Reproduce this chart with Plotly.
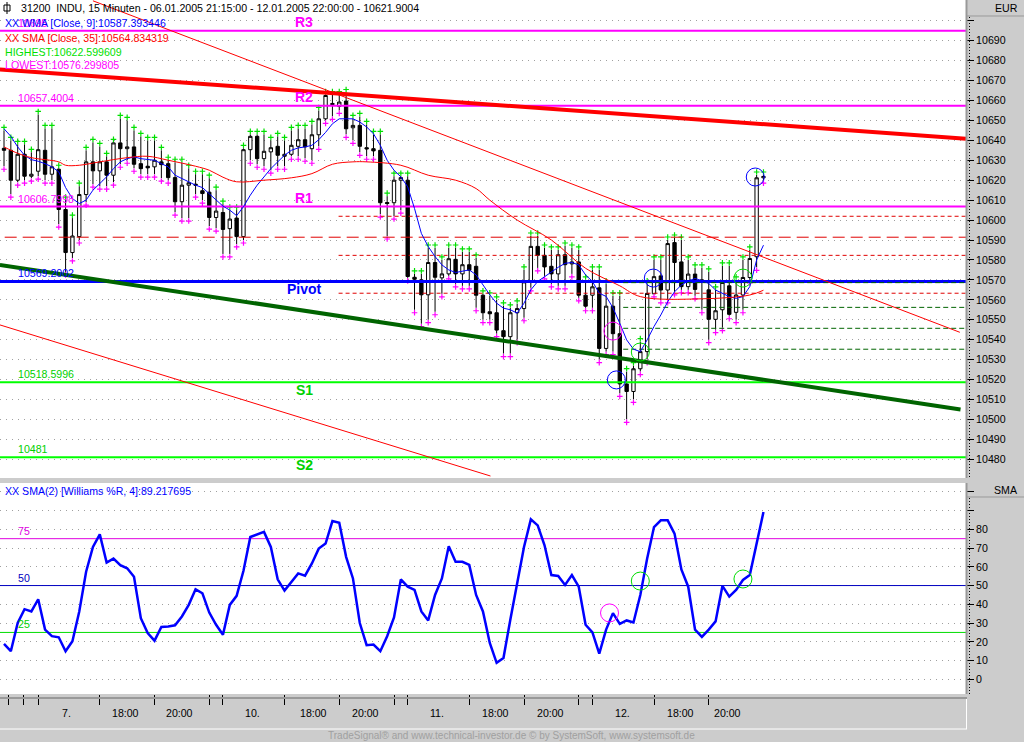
import plotly.graph_objects as go

# 15 minute bars, index 0 = 06.01.2005 21:15, last index = 12.01.2005 22:00
opens = [10636, 10635, 10620, 10633, 10622, 10624.5, 10635, 10623, 10625.5, 10605.3,
         10583.7, 10591.7, 10612.8, 10629.2, 10624.7, 10629.2, 10622.5, 10638.7, 10635.8, 10636.7,
         10628.3, 10627, 10626.7, 10629.2, 10628.3, 10621.3, 10609.2, 10617.5, 10618, 10614.7,
         10614, 10601.3, 10603.8, 10595.7, 10601, 10591.7, 10635.3, 10642, 10630.8, 10634.2,
         10637, 10632, 10633, 10637, 10640.3, 10635.8, 10642.8, 10650.8, 10658.5, 10657,
         10659.7, 10646.3, 10647.5, 10636.3, 10635.8, 10635, 10608.8, 10608.7, 10620, 10620,
         10571.3, 10570, 10562.5, 10578.7, 10571, 10573, 10580.3, 10573, 10577.6, 10576.8,
         10562.3, 10554, 10553.5, 10544.5, 10541.5, 10553.5, 10555.6, 10569, 10586.8, 10582.3,
         10576.8, 10573, 10582.6, 10578, 10579, 10562.3, 10562.3, 10566, 10535.6, 10556.8,
         10543, 10517.8, 10514, 10525.4, 10534, 10563, 10572, 10564.9, 10588.7, 10579,
         10566.6, 10572.9, 10570, 10565, 10550.2, 10555, 10567, 10553.7, 10562.4, 10571.2,
         10581.6, 10621.2]
highs = [10645, 10640, 10638, 10638, 10634, 10653, 10646, 10646, 10626, 10610,
         10601, 10617, 10635, 10639, 10637, 10632, 10639, 10651, 10650, 10645,
         10642, 10640, 10640, 10635, 10630, 10629, 10629, 10626, 10623, 10623,
         10621, 10615, 10608, 10605, 10605, 10636, 10643, 10643, 10643, 10640,
         10642, 10640, 10645, 10646, 10646, 10648, 10655, 10663, 10663, 10663,
         10664, 10651, 10652, 10648, 10643, 10643, 10612, 10622, 10622, 10622,
         10573, 10573, 10586, 10586, 10580, 10586, 10586, 10584, 10584, 10581,
         10563, 10562, 10560, 10557, 10556, 10558, 10575, 10592, 10592, 10586,
         10585, 10585, 10587, 10586, 10585, 10570, 10575, 10575, 10568, 10562,
         10562, 10524, 10527, 10539, 10568, 10580, 10580, 10590, 10591, 10590,
         10580, 10576, 10576, 10574, 10565, 10577, 10577, 10570, 10580, 10585,
         10622.6, 10622.6]
lows = [10627, 10613, 10619, 10620, 10621, 10622, 10620, 10620, 10598, 10574,
        10581, 10590, 10609, 10618, 10617, 10617, 10619, 10628, 10630, 10626,
        10623, 10623, 10623, 10621, 10620, 10604, 10601, 10601, 10613, 10610,
        10597, 10596, 10583, 10583, 10588, 10590, 10630, 10628, 10627, 10625,
        10627, 10627, 10632, 10632, 10631, 10630, 10637, 10650, 10652, 10655,
        10643, 10640, 10634, 10632, 10632, 10603, 10592, 10602, 10605, 10571,
        10555, 10548, 10550, 10554, 10563, 10572, 10568, 10567, 10567, 10556,
        10550, 10550, 10543, 10533, 10533, 10540, 10551, 10566, 10576, 10572,
        10568, 10567, 10567, 10573, 10561, 10556, 10556, 10530, 10534, 10534,
        10513, 10500, 10510, 10524, 10530, 10563, 10560, 10560, 10564, 10565,
        10565, 10562, 10555, 10540, 10545, 10546, 10552, 10550, 10555, 10570,
        10576.3, 10620]
closes = [10635, 10620, 10633, 10622, 10623, 10635.3, 10623, 10626.7, 10605.3, 10583.7,
          10592, 10612.8, 10629.2, 10624.7, 10629.2, 10622.5, 10638.7, 10635.8, 10636.7, 10628,
          10625.8, 10626.2, 10630, 10627.8, 10621.3, 10609.2, 10617.5, 10618.7, 10617.5, 10613.3,
          10601.3, 10604.5, 10595.3, 10600.5, 10591.7, 10635.3, 10642, 10630.8, 10634.5, 10636.3,
          10632.5, 10633, 10637.5, 10640.3, 10636.7, 10642.8, 10650.8, 10662.5, 10658, 10659.2,
          10645.8, 10647.5, 10637, 10635.7, 10634.7, 10608.7, 10608.3, 10620, 10621.3, 10571.7,
          10570.3, 10562.5, 10578.7, 10571.3, 10573, 10580.6, 10573, 10577.6, 10574.8, 10562.3,
          10553.5, 10553, 10544.8, 10541.5, 10553.5, 10555.6, 10569, 10586.8, 10582.3, 10576.5,
          10573, 10582.6, 10577.6, 10579, 10562.3, 10556.8, 10566.5, 10535.6, 10556.8, 10543,
          10517.8, 10514, 10525.4, 10534, 10563.2, 10571.6, 10564.9, 10588.2, 10578.7, 10566.6,
          10572.9, 10565.2, 10569, 10550.2, 10554.5, 10568.7, 10552.7, 10562.4, 10571.2, 10580.7,
          10621.2, 10621.9]

wma9 = [10645.8, 10642, 10636.7, 10632.5, 10630.3, 10629.5, 10628.3, 10626.7, 10624.2, 10616.3,
        10610.8, 10608.3, 10610, 10615, 10618.3, 10621.7, 10625.8, 10629.2, 10630.8, 10631.7,
        10630.8, 10630.3, 10630, 10628.3, 10626.7, 10622.5, 10620.8, 10619.2, 10617.5, 10616.3,
        10613.3, 10610, 10607, 10605, 10602.2, 10606.7, 10612.5, 10617.5, 10621.7, 10625.8,
        10629.2, 10632.5, 10635, 10636.2, 10636.7, 10637.5, 10640.3, 10644, 10648.3, 10650.8,
        10650.8, 10650.8, 10649.2, 10646.7, 10643.3, 10637.5, 10630, 10625, 10621.7, 10616.7,
        10605.8, 10593.3, 10586.7, 10581.7, 10577.5, 10575, 10573.7, 10574.2, 10575, 10572.5,
        10567.5, 10562.5, 10558.3, 10555.8, 10555, 10553.3, 10558.3, 10565, 10569.2, 10571.7,
        10574.2, 10576.3, 10578.3, 10578.7, 10577.5, 10572.5, 10569.2, 10563.3, 10561.7, 10556,
        10548.2, 10539.9, 10535.2, 10534, 10539.9, 10546.6, 10552.4, 10559, 10564, 10567.4,
        10569.4, 10570.7, 10569.6, 10568.2, 10564.9, 10563.2, 10561.6, 10560.7, 10561.6, 10566.6,
        10580, 10587.4]

sma35_bar = [0, 2, 4, 8, 9, 11, 14, 18, 21, 24, 28, 30, 32, 34, 38, 42, 45, 48, 51, 53,
             58, 62, 66, 69, 71, 75, 80, 85, 90, 93, 102, 109, 111]
sma35_val = [10636.7, 10633.5, 10631.3, 10629.2, 10627.5, 10627.5, 10629.2, 10631.3, 10632, 10630,
             10627, 10625, 10621.5, 10619.2, 10620, 10621.2, 10623.3, 10628, 10629.2, 10629.2,
             10627.5, 10622.5, 10620, 10615.8, 10610, 10600, 10590, 10575.8, 10567, 10561.6,
             10560.5, 10562.4, 10564.8]

wpr_sma2 = [18.9, 15, 30, 37.4, 36.2, 42.7, 26.5, 23, 22.4, 15,
            20.3, 36.2, 57.4, 70.6, 77.3, 62.3, 64.4, 60.9, 59.2, 54.7,
            32.6, 24.7, 20.6, 27.9, 28.2, 28.8, 33.5, 39.7, 48, 45.9,
            35.6, 29.1, 23.8, 39.7, 44.5, 57.9, 75.9, 77.3, 78.6, 70.6,
            53.3, 47.3, 52.1, 56.5, 55.3, 61.8, 69.7, 72.4, 84.4, 83.5,
            65.3, 53.8, 30, 18.2, 18.5, 15, 23, 33, 53.3, 49.4,
            47.7, 36.2, 31.4, 45, 53.8, 71, 62.7, 62.7, 61, 45,
            36.2, 19.4, 8.8, 11.4, 31.8, 50.3, 70.6, 85.3, 82.1, 71.5,
            55.6, 55.1, 50.3, 55.6, 49.4, 29.1, 25, 13.7, 26.5, 35.3,
            29.6, 31.4, 30.3, 45, 64.4, 81.2, 84.8, 84.8, 77.7, 58.6,
            49.4, 26.5, 22.6, 26.5, 30.9, 49.8, 44.1, 47.7, 53, 55.6,
            73.3, 89.2]

# floor pivots of the previous day
level_vals = [10695, 10657.4004, 10606.7998, 10569.2002, 10518.5996, 10481]
level_text = ["10695", "10657.4004", "10606.7998", "10569.2002", "10518.5996", "10481"]
level_names = ["R3", "R2", "R1", "Pivot", "S1", "S2"]

# hand drawn trend lines (bar, price)
res_k, res_p = [-0.6, 140.6], [10675.6, 10640.8]
sup_k, sup_p = [-0.6, 139.8], [10577.5, 10505.0]
chan_hi_k, chan_hi_p = [13.0, 139.7], [10710.0, 10543.7]
chan_lo_k, chan_lo_p = [-0.6, 71.1], [10547.4, 10471.6]

red_dash_levels = [10601.9, 10582.3, 10563.3]
red_dash_start = 48.9
red_long_level = 10591.4
green_dash_levels = [10568.6, 10556.2, 10545.7, 10535.2]
green_dash_start = 90.5

# signal circles
top_blue_k, top_blue_p = [89.5, 94.9, 109.8], [10519.8, 10570.9, 10621.6]
top_green_k, top_green_p = [93.0, 108.0], [10533.8, 10570.9]
top_mag_k, top_mag_p = [89.0], [10544.3]
low_mag_k, low_mag_v = [88.5], [35.4]
low_green_k, low_green_v = [93.0, 108.0], [52.4, 53.5]

tick_k = [0.6, 2.9, 5, 14, 22, 30, 32, 41, 49, 57, 59, 68, 76, 84, 86, 95, 103]
label_k = [9.2, 17.7, 25.7, 36.3, 45.3, 52.9, 63.3, 71.8, 79.8, 90.4, 98.8, 105.8]
label_txt = ["7.", "18:00", "20:00", "10.", "18:00", "20:00",
             "11.", "18:00", "20:00", "12.", "18:00", "20:00"]

FONT = "Liberation Sans, Arial, sans-serif"
X_MIN, X_MAX = -0.585, 140.6
W, H, PLOT_W, PLOT_H = 1024, 742, 966, 694
MAG, BLUE, LIME, GREEN_TXT = "#ff00ff", "#0000ff", "#00ff00", "#00d000"


def px(x):
    return x / PLOT_W


def py(y):
    return (PLOT_H - y) / PLOT_H


bars = list(range(len(closes)))
fig = go.Figure()

fig.add_trace(go.Candlestick(
    x=bars, open=opens, high=highs, low=lows, close=closes,
    increasing=dict(line=dict(color="black", width=1), fillcolor="white"),
    decreasing=dict(line=dict(color="black", width=1), fillcolor="black"),
    whiskerwidth=0, hoverinfo="skip", showlegend=False))

fig.add_trace(go.Scatter(x=bars, y=[h + 1.5 for h in highs], mode="markers",
                         marker=dict(symbol="cross-thin", size=4, line=dict(color="#00e000", width=1.2)),
                         hoverinfo="skip"))
fig.add_trace(go.Scatter(x=bars, y=[l - 1.5 for l in lows], mode="markers",
                         marker=dict(symbol="cross-thin", size=4, line=dict(color=MAG, width=1.2)),
                         hoverinfo="skip"))

# pivot levels
level_cols = [MAG, MAG, MAG, BLUE, LIME, LIME]
level_w = [2, 2, 2, 3, 2, 2]
for v, c, w in zip(level_vals, level_cols, level_w):
    fig.add_trace(go.Scatter(x=[X_MIN, X_MAX], y=[v, v], mode="lines",
                             line=dict(color=c, width=w), hoverinfo="skip"))

fig.add_trace(go.Scatter(x=[0.1, X_MAX], y=[red_long_level] * 2, mode="lines",
                         line=dict(color="#e00000", width=1, dash="12px,6px"), hoverinfo="skip"))
for v in red_dash_levels:
    fig.add_trace(go.Scatter(x=[red_dash_start, X_MAX], y=[v, v], mode="lines",
                             line=dict(color="#e00000", width=1, dash="4px,3px"), hoverinfo="skip"))
for v in green_dash_levels:
    fig.add_trace(go.Scatter(x=[green_dash_start, X_MAX], y=[v, v], mode="lines",
                             line=dict(color="#006400", width=1, dash="5px,3px"), hoverinfo="skip"))

# trend lines
fig.add_trace(go.Scatter(x=chan_hi_k, y=chan_hi_p, mode="lines", line=dict(color="red", width=1), hoverinfo="skip"))
fig.add_trace(go.Scatter(x=chan_lo_k, y=chan_lo_p, mode="lines", line=dict(color="red", width=1), hoverinfo="skip"))
fig.add_trace(go.Scatter(x=res_k, y=res_p, mode="lines", line=dict(color="red", width=4), hoverinfo="skip"))
fig.add_trace(go.Scatter(x=sup_k, y=sup_p, mode="lines", line=dict(color="#006400", width=4), hoverinfo="skip"))

# averages
fig.add_trace(go.Scatter(x=bars, y=wma9, mode="lines", line=dict(color=BLUE, width=1), hoverinfo="skip"))
fig.add_trace(go.Scatter(x=sma35_bar, y=sma35_val, mode="lines", line=dict(color="red", width=1, shape="spline"),
                         hoverinfo="skip"))

for ks, ps, c in [(top_blue_k, top_blue_p, BLUE), (top_green_k, top_green_p, "#00dd00"),
                  (top_mag_k, top_mag_p, MAG)]:
    fig.add_trace(go.Scatter(x=ks, y=ps, mode="markers",
                             marker=dict(symbol="circle-open", size=18, color=c, line=dict(color=c, width=1)),
                             hoverinfo="skip"))

# lower panel
for v, c in [(75, "#e000e0"), (50, "#0000c0"), (25, "#00dd00")]:
    fig.add_trace(go.Scatter(x=[X_MIN, X_MAX], y=[v, v], mode="lines", line=dict(color=c, width=1),
                             yaxis="y2", hoverinfo="skip"))
fig.add_trace(go.Scatter(x=bars, y=wpr_sma2, mode="lines", line=dict(color=BLUE, width=2.5),
                         yaxis="y2", hoverinfo="skip"))
for ks, vs, c in [(low_mag_k, low_mag_v, MAG), (low_green_k, low_green_v, "#00dd00")]:
    fig.add_trace(go.Scatter(x=ks, y=vs, mode="markers", yaxis="y2",
                             marker=dict(symbol="circle-open", size=18, color=c, line=dict(color=c, width=1)),
                             hoverinfo="skip"))

ann = []
small = dict(family=FONT, size=10.6)
# level annotations
for v, t, n, c in zip(level_vals, level_text, level_names, level_cols):
    tc = GREEN_TXT if c == LIME else c
    ann.append(dict(x=px(16), xref="paper", y=v, yref="y", yshift=8, text=t, showarrow=False,
                    xanchor="left", yanchor="middle", font=dict(small, color=tc)))
    above = n.startswith("R")
    ann.append(dict(x=px(304), xref="paper", y=v, yref="y", yshift=9 if above else -8, text=n,
                    showarrow=False, xanchor="center", yanchor="middle",
                    font=dict(family=FONT, size=14, color=tc, weight="bold")))

ann.append(dict(x=px(19), y=py(8), xref="paper", yref="paper", xanchor="left", yanchor="middle",
                showarrow=False, font=dict(small, color="black"),
                text="31200  INDU, 15 Minuten - 06.01.2005 21:15:00 - 12.01.2005 22:00:00 - 10621.9004"))
legend_rows = [("XX WMA [Close, 9]:10587.393446", BLUE, 23),
               ("XX SMA [Close, 35]:10564.834319", "red", 37.5),
               ("HIGHEST:10622.599609", "#00e000", 51.5),
               ("LOWEST:10576.299805", MAG, 65)]
for t, c, yy in legend_rows:
    ann.append(dict(x=px(3), y=py(yy), xref="paper", yref="paper", xanchor="left", yanchor="middle",
                    showarrow=False, font=dict(small, color=c), text=t))
ann.append(dict(x=px(3), y=py(491), xref="paper", yref="paper", xanchor="left", yanchor="middle",
                showarrow=False, font=dict(small, color=BLUE), text="XX SMA(2) [Williams %R, 4]:89.217695"))
for v, c in [(75, "#e000e0"), (50, "#0000c0"), (25, "#00d000")]:
    ann.append(dict(x=px(16), xref="paper", y=v, yref="y2", yshift=8, text=str(v), showarrow=False,
                    xanchor="left", yanchor="middle", font=dict(small, color=c)))
ann.append(dict(x=px(1020), y=py(8), xref="paper", yref="paper", xanchor="right", yanchor="middle",
                showarrow=False, font=dict(small, color="black"), text="EUR"))
ann.append(dict(x=px(1020), y=py(490), xref="paper", yref="paper", xanchor="right", yanchor="middle",
                showarrow=False, font=dict(small, color="black"), text="SMA"))
for k, t in zip(label_k, label_txt):
    ann.append(dict(x=k, xref="x", y=py(713), yref="paper", xanchor="center", yanchor="middle",
                    showarrow=False, font=dict(small, color="black"), text=t))
ann.append(dict(x=px(511), y=py(735), xref="paper", yref="paper", xanchor="center", yanchor="middle",
                showarrow=False, font=dict(family=FONT, size=10, color="#a0a0a0"),
                text="TradeSignal® and www.technical-investor.de © by SystemSoft, www.systemsoft.de"))


def pline(x0, y0, x1, y1, color, width=1, dash=None):
    return dict(type="line", xref="paper", yref="paper", x0=px(x0), y0=py(y0), x1=px(x1), y1=py(y1),
                line=dict(color=color, width=width, dash=dash))


shapes = [
    pline(966.5, 0, 966.5, 478, "#999999", 2),
    pline(966.5, 483, 966.5, 694, "#999999", 2),
    pline(969.5, 17, 969.5, 478, "black", 1, "1px,2px"),
    pline(969.5, 498, 969.5, 694, "black", 1, "1px,2px"),
    pline(967, 16, 1024, 16, "#999999", 1),
    pline(967, 497, 1024, 497, "#999999", 1),
    pline(0, 698, 967, 698, "#999999", 2),
    pline(0, 729, 967, 729, "white", 1),
    pline(966.5, 699, 966.5, 729, "white", 1),
    dict(type="rect", xref="paper", yref="paper", x0=px(4), x1=px(10), y0=py(5), y1=py(11),
         line=dict(color="black", width=1), fillcolor="white"),
    pline(7, 2, 7, 14, "black", 1),
]

axis_font = dict(family=FONT, size=10.6, color="black")
top_ticks = list(range(10480, 10710, 10))
low_ticks = list(range(0, 110, 10))
fig.update_layout(
    width=W, height=H, margin=dict(l=0, r=W - PLOT_W, t=0, b=H - PLOT_H),
    paper_bgcolor="#cccccc", plot_bgcolor="white", showlegend=False,
    xaxis=dict(domain=[0, 1], anchor="y2", range=[X_MIN, X_MAX], showgrid=False, zeroline=False,
               showline=False, tickvals=tick_k, ticktext=[""] * len(tick_k), ticks="outside",
               ticklen=10, tickcolor="black", rangeslider=dict(visible=False)),
    yaxis=dict(domain=[(PLOT_H - 478) / PLOT_H, 1], anchor="x", side="right", range=[10470.6, 10710.4],
               tickvals=top_ticks, ticktext=[str(v) if v < 10700 else "" for v in top_ticks],
               ticks="outside", ticklen=7, tickcolor="black", tickfont=axis_font,
               showgrid=True, gridcolor="#a0a0a0", griddash="1px,5px", zeroline=False, showline=False),
    yaxis2=dict(domain=[0, (PLOT_H - 483) / PLOT_H], anchor="x", side="right", range=[-7.84, 104.7],
                tickvals=low_ticks, ticktext=[str(v) if v <= 80 else "" for v in low_ticks],
                ticks="outside", ticklen=7, tickcolor="black", tickfont=axis_font,
                showgrid=True, gridcolor="#a0a0a0", griddash="1px,5px", zeroline=False, showline=False),
    annotations=ann, shapes=shapes,
)
for tr in fig.data:
    tr.showlegend = False

# the page body has a default margin; drop it so the figure fills the window
fig.write_html("out.html", config={"displayModeBar": False},
               post_script="document.body.style.margin='0px';")
